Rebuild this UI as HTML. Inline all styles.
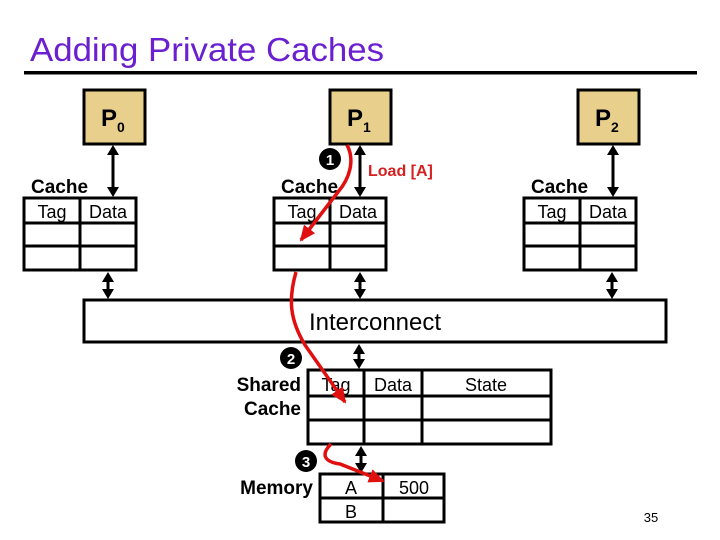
<!DOCTYPE html>
<html><head><meta charset="utf-8"><style>
body{margin:0;background:#fff;}
svg{display:block;font-family:"Liberation Sans",sans-serif;}
</style></head><body>
<svg width="720" height="540" viewBox="0 0 720 540" xmlns="http://www.w3.org/2000/svg">
<defs>
<marker id="ar" markerWidth="16" markerHeight="14" refX="14" refY="7" orient="auto" markerUnits="userSpaceOnUse"><path d="M0,0 L16,7 L0,14 z" fill="#e01010"/></marker>
</defs>
<text x="30" y="61" font-size="33" fill="#6a1fd0" textLength="354" lengthAdjust="spacingAndGlyphs">Adding Private Caches</text>
<rect x="24" y="71" width="673" height="3.5" fill="#000"/>

<g stroke="#000" stroke-width="3" fill="#e8d08c">
<rect x="84" y="90" width="61" height="54"/>
<rect x="330" y="90" width="61" height="54"/>
<rect x="578" y="90" width="61" height="54"/>
</g>
<g font-weight="bold" font-size="24" fill="#000">
<text x="101" y="126">P<tspan font-size="14" dy="6">0</tspan></text>
<text x="347" y="126">P<tspan font-size="14" dy="6">1</tspan></text>
<text x="595" y="126">P<tspan font-size="14" dy="6">2</tspan></text>
</g>

<g stroke="#000" stroke-width="3" fill="none">
<rect x="24" y="198" width="112" height="72"/>
<line x1="24" y1="223" x2="136" y2="223"/><line x1="24" y1="246" x2="136" y2="246"/><line x1="80" y1="198" x2="80" y2="270"/>
<rect x="274" y="198" width="112" height="72"/>
<line x1="274" y1="223" x2="386" y2="223"/><line x1="274" y1="246" x2="386" y2="246"/><line x1="330" y1="198" x2="330" y2="270"/>
<rect x="524" y="198" width="112" height="72"/>
<line x1="524" y1="223" x2="636" y2="223"/><line x1="524" y1="246" x2="636" y2="246"/><line x1="580" y1="198" x2="580" y2="270"/>
<rect x="84" y="300" width="582" height="42"/>
<rect x="308" y="370" width="243" height="74"/>
<line x1="308" y1="396" x2="551" y2="396"/><line x1="308" y1="420" x2="551" y2="420"/>
<line x1="364" y1="370" x2="364" y2="444"/><line x1="422" y1="370" x2="422" y2="444"/>
<rect x="320" y="474" width="124" height="48"/>
<line x1="320" y1="498" x2="444" y2="498"/><line x1="383" y1="474" x2="383" y2="522"/>
</g>

<g stroke="#000" stroke-width="3">
<line x1="113" y1="152" x2="113" y2="190"/>
<line x1="360" y1="152" x2="360" y2="190"/>
<line x1="613" y1="152" x2="613" y2="190"/>
<line x1="108" y1="280" x2="108" y2="290"/>
<line x1="360" y1="280" x2="360" y2="290"/>
<line x1="612" y1="280" x2="612" y2="290"/>
<line x1="359" y1="352" x2="359" y2="360"/>
<line x1="361" y1="454" x2="361" y2="464"/>
</g>
<g fill="#000">
<path d="M107,155 L113,145 L119,155 Z M107,187 L113,197 L119,187 Z"/>
<path d="M354,155 L360,145 L366,155 Z M354,187 L360,197 L366,187 Z"/>
<path d="M607,155 L613,145 L619,155 Z M607,187 L613,197 L619,187 Z"/>
<path d="M102,282 L108,272 L114,282 Z M102,289 L108,299 L114,289 Z"/>
<path d="M354,282 L360,272 L366,282 Z M354,289 L360,299 L366,289 Z"/>
<path d="M606,282 L612,272 L618,282 Z M606,289 L612,299 L618,289 Z"/>
<path d="M353,354 L359,344 L365,354 Z M353,359 L359,369 L365,359 Z"/>
<path d="M355,456 L361,446 L367,456 Z M355,463 L361,473 L367,463 Z"/>
</g>

<g font-weight="bold" font-size="19" fill="#000">
<text x="31" y="193">Cache</text>
<text x="281" y="193">Cache</text>
<text x="531" y="193">Cache</text>
<text x="301" y="391" text-anchor="end">Shared</text>
<text x="301" y="415" text-anchor="end">Cache</text>
<text x="313" y="494" text-anchor="end">Memory</text>
</g>
<g font-size="18" fill="#000" text-anchor="middle">
<text x="52" y="218">Tag</text><text x="108" y="218">Data</text>
<text x="302" y="218">Tag</text><text x="358" y="218">Data</text>
<text x="552" y="218">Tag</text><text x="608" y="218">Data</text>
<text x="336" y="391">Tag</text><text x="393" y="391">Data</text><text x="486" y="391">State</text>
<text x="351" y="494">A</text><text x="351" y="518">B</text><text x="414" y="494">500</text>
<text x="375" y="330" font-size="24">Interconnect</text>
<text x="651" y="522" font-size="13">35</text>
</g>
<text x="368" y="176" font-weight="bold" font-size="16" fill="#d42020">Load [A]</text>

<g fill="#000"><circle cx="330" cy="159" r="11"/><circle cx="291" cy="358" r="11"/><circle cx="306" cy="461" r="11"/></g>
<g fill="#fff" font-weight="bold" font-size="15" text-anchor="middle">
<text x="330" y="165">1</text><text x="291" y="364">2</text><text x="306" y="467">3</text>
</g>

<g stroke="#e01010" stroke-width="3.5" fill="none">
<path d="M347,145 C355,160 350,178 338,192 L301,240" marker-end="url(#ar)"/>
<path d="M296,272 C288,300 290,320 305,345 L345,402" marker-end="url(#ar)"/>
<path d="M331,444 C320,455 325,462 340,464 L383,481" marker-end="url(#ar)"/>
</g>
</svg>
</body></html>
